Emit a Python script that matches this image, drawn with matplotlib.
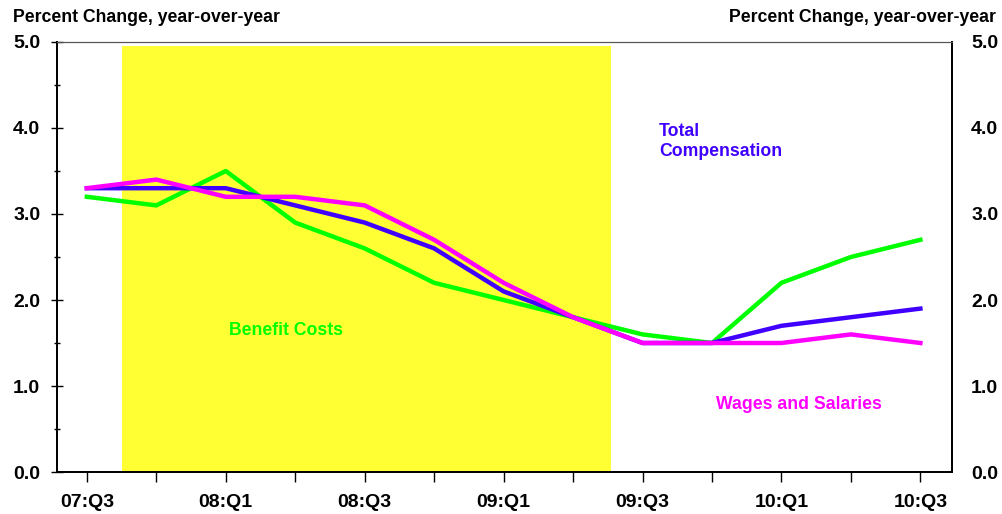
import matplotlib.pyplot as plt
from matplotlib.ticker import MultipleLocator

plt.rcParams['font.family'] = ['Liberation Sans', 'DejaVu Sans']
plt.rcParams['font.weight'] = 'bold'

quarters = ['07:Q3', '07:Q4', '08:Q1', '08:Q2', '08:Q3', '08:Q4', '09:Q1',
            '09:Q2', '09:Q3', '09:Q4', '10:Q1', '10:Q2', '10:Q3']
total_comp = [3.3, 3.3, 3.3, 3.1, 2.9, 2.6, 2.1, 1.8, 1.5, 1.5, 1.7, 1.8, 1.9]
wages = [3.3, 3.4, 3.2, 3.2, 3.1, 2.7, 2.2, 1.8, 1.5, 1.5, 1.5, 1.6, 1.5]
benefits = [3.2, 3.1, 3.5, 2.9, 2.6, 2.2, 2.0, 1.8, 1.6, 1.5, 2.2, 2.5, 2.7]
recession = (0.5, 7.54)
y_ticks = [0, 1, 2, 3, 4, 5]

x = list(range(len(quarters)))

fig = plt.figure(figsize=(10.03, 5.14), dpi=100)
ax = fig.add_axes([0.0568, 0.0817, 0.892, 0.8366])

ax.fill_between(recession, 0, 4.957, color='#FFFF33', lw=0, zorder=1)

ax.plot(x, benefits, color='#00FF00', lw=3.2, zorder=3)
ax.plot(x, total_comp, color='#4000FF', lw=3.2, zorder=4)
ax.plot(x, wages, color='#FF00FF', lw=3.2, zorder=5)

ax.set_xlim(-0.43, 12.45)
ax.set_ylim(0, 5)

ax.set_xticks(x)
ax.set_xticklabels([q if i % 2 == 0 else '' for i, q in enumerate(quarters)],
                   fontsize=14, fontweight='bold')
ax.tick_params(axis='x', direction='out', length=7, width=1, pad=9, top=False)

ax.set_yticks(y_ticks)
ax.yaxis.set_minor_locator(MultipleLocator(0.5))
ax.set_yticklabels(['%.1f' % v for v in y_ticks], fontsize=14, fontweight='bold')
ax.tick_params(axis='y', which='major', direction='inout', length=8, width=1, pad=8)
ax.tick_params(axis='y', which='minor', direction='inout', length=5, width=1)

# right-hand labels only, no tick marks
ax2 = ax.twinx()
ax2.set_ylim(0, 5)
ax2.set_yticks(y_ticks)
ax2.set_yticklabels(['%.1f' % v for v in y_ticks], fontsize=14, fontweight='bold')
ax2.tick_params(axis='y', length=0, pad=14)

ax.spines['top'].set_color('#555555')
ax2.spines['top'].set_color('#555555')
for s in ['left', 'right', 'bottom']:
    ax.spines[s].set_color('black')
    ax.spines[s].set_linewidth(1.3)
    ax2.spines[s].set_color('black')
    ax2.spines[s].set_linewidth(1.3)

fig.text(0.013, 0.965, 'Percent Change, year-over-year', fontsize=12.7, fontweight='bold',
         ha='left', va='center')
fig.text(0.993, 0.965, 'Percent Change, year-over-year', fontsize=12.7, fontweight='bold',
         ha='right', va='center')

ax.text(8.24, 3.84, 'Total\nCompensation', color='#4000FF', fontsize=12.7,
        fontweight='bold', ha='left', va='center', linespacing=1.2)
ax.text(2.04, 1.65, 'Benefit Costs', color='#00FF00', fontsize=12.7,
        fontweight='bold', ha='left', va='center')
ax.text(9.06, 0.78, 'Wages and Salaries', color='#FF00FF', fontsize=12.7,
        fontweight='bold', ha='left', va='center')

fig.savefig('out.png', dpi=100)
